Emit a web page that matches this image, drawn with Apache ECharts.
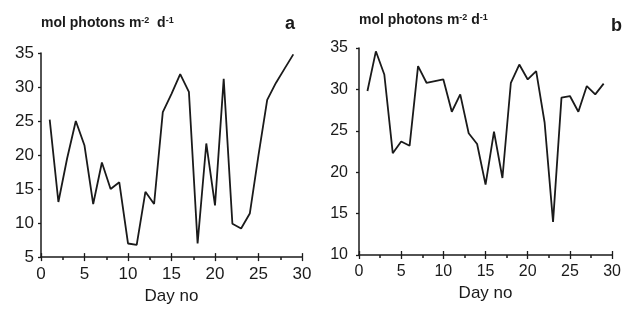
<!DOCTYPE html>
<html>
<head>
<meta charset="utf-8">
<script src="https://cdn.jsdelivr.net/npm/echarts@6/dist/echarts.min.js"></script>
<style>
  html, body { margin: 0; padding: 0; background: #fff; }
  #chart { width: 624px; height: 310px; }
</style>
</head>
<body>
<div id="chart"></div>
<script>
// day numbers on the x axis
var days = [1, 2, 3, 4, 5, 6, 7, 8, 9, 10, 11, 12, 13, 14, 15, 16, 17, 18, 19, 20, 21, 22, 23, 24, 25, 26, 27, 28, 29];
// panel a, mol photons m-2 d-1
var valuesA = [25.2, 13.1, 19.5, 25, 21.4, 12.8, 18.9, 15, 16, 7, 6.8, 14.6, 12.8, 26.3, 29, 31.9, 29.3, 7, 21.7, 12.6, 31.2, 9.9, 9.2, 11.4, 20, 28.1, 30.6, 32.7, 34.8];
// panel b
var valuesB = [29.8, 34.6, 31.8, 22.3, 23.7, 23.2, 32.8, 30.8, 31, 31.2, 27.3, 29.4, 24.7, 23.4, 18.5, 24.9, 19.3, 30.8, 33, 31.2, 32.2, 26, 14, 29, 29.2, 27.3, 30.4, 29.4, 30.7];
var xTicks = [0, 30, 5];
var yTicksA = [5, 35, 5];
var yTicksB = [10, 35, 5];

var ink = '#1a1a1a';
var font = 'Liberation Sans, Arial, sans-serif';

function pairs(vals) {
    var out = [];
    for (var i = 0; i < days.length; i++) {
        out.push([days[i], vals[i]]);
    }
    return out;
}

// main axis with labels, ticks pointing out
function xMain(grid, size) {
    return {
        type: 'value', gridIndex: grid, position: 'bottom',
        min: xTicks[0], max: xTicks[1], interval: xTicks[2],
        name: 'Day no', nameLocation: 'middle', nameGap: 27,
        nameTextStyle: { color: ink, fontSize: 17, fontFamily: font },
        axisLine: { lineStyle: { color: ink, width: 1.5 } },
        axisTick: { length: 4, lineStyle: { color: ink, width: 1.3 } },
        minorTick: { show: true, splitNumber: 2, length: 3, lineStyle: { color: ink, width: 1.5 } },
        axisLabel: { color: ink, fontSize: size, fontFamily: font, margin: 9 },
        splitLine: { show: false }
    };
}
// overlay axis so the major ticks cross the line
function xOver(grid) {
    return {
        type: 'value', gridIndex: grid, position: 'bottom',
        min: xTicks[0], max: xTicks[1], interval: xTicks[2],
        axisLine: { show: false },
        axisTick: { inside: true, length: 4, lineStyle: { color: ink, width: 1.3 } },
        axisLabel: { show: false },
        splitLine: { show: false }
    };
}
function yMain(grid, t, size, margin) {
    return {
        type: 'value', gridIndex: grid,
        min: t[0], max: t[1], interval: t[2],
        axisLine: { show: true, lineStyle: { color: ink, width: 1.5 } },
        axisTick: { show: true, length: 3, lineStyle: { color: ink, width: 1.3 } },
        axisLabel: { color: ink, fontSize: size, fontFamily: font, margin: margin },
        splitLine: { show: false }
    };
}

var titleRich = function (size) {
    return {
        m: { fontSize: size, fontWeight: 'bold', color: ink, fontFamily: font },
        s: { fontSize: size - 5, fontWeight: 'bold', color: ink, fontFamily: font, verticalAlign: 'top', padding: [0, 0, 6, 0] }
    };
};

var chart = echarts.init(document.getElementById('chart'), null, { renderer: 'canvas' });
chart.setOption({
    backgroundColor: '#fff',
    animation: false,
    title: [
        { text: '{m|mol photons m}{s|-2}{m|  d}{s|-1}', left: 36, top: 11,
          textStyle: { rich: titleRich(14) } },
        { text: 'a', left: 280, top: 10, textStyle: { fontSize: 18, fontWeight: 'bold', color: ink, fontFamily: font } },
        { text: '{m|mol photons m}{s|-2}{m| d}{s|-1}', left: 354, top: 8,
          textStyle: { rich: titleRich(14) } },
        { text: 'b', left: 606, top: 12, textStyle: { fontSize: 18, fontWeight: 'bold', color: ink, fontFamily: font } }
    ],
    grid: [
        { left: 41, right: 322, top: 53, bottom: 51 },
        { left: 359, right: 5, top: 48, bottom: 55 }
    ],
    xAxis: [xMain(0, 17), xOver(0), xMain(1, 16), xOver(1)],
    yAxis: [yMain(0, yTicksA, 17, 7), yMain(1, yTicksB, 16, 11)],
    series: [
        { type: 'line', xAxisIndex: 0, yAxisIndex: 0, data: pairs(valuesA),
          showSymbol: false, lineStyle: { color: ink, width: 1.8 } },
        { type: 'line', xAxisIndex: 2, yAxisIndex: 1, data: pairs(valuesB),
          showSymbol: false, lineStyle: { color: ink, width: 1.8 } }
    ]
});
</script>
</body>
</html>
